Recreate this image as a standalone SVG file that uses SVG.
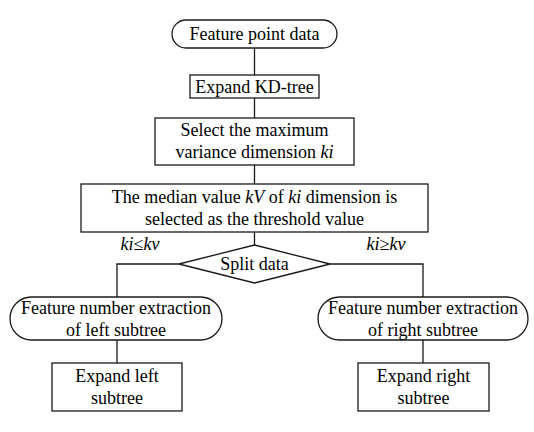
<svg xmlns="http://www.w3.org/2000/svg" width="534" height="432" viewBox="0 0 534 432">
<style>
.s{fill:#fff;stroke:#1a1a1a;stroke-width:1.3}
.c{fill:none;stroke:#1a1a1a;stroke-width:1.3}
text{font-family:'Liberation Serif','Times New Roman','DejaVu Serif',serif;font-size:18px;fill:#000;text-anchor:middle}
.i{font-style:italic}
</style>
<rect width="534" height="432" fill="#fff"/>
<g id="connectors">
<path class="c" d="M254.5 48V75M254.5 98V118M254.5 165V184M254.5 232V245M179 264H117V297M330 264H423V297M117 340V363M423 340V363"/>
</g>
<g id="start"><rect class="s" x="172" y="20" width="165" height="28" rx="14"/><text x="254.5" y="40" font-family="Liberation Serif">Feature point data</text></g>
<g id="expand"><rect class="s" x="190" y="75" width="129" height="23"/><text x="254.5" y="93">Expand KD-tree</text></g>
<g id="select"><rect class="s" x="155" y="118" width="199" height="47"/><text x="254.5" y="136">Select the maximum</text><text x="254.5" y="158">variance dimension <tspan class="i">ki</tspan></text></g>
<g id="median"><rect class="s" x="81" y="184" width="347" height="48"/><text x="254.5" y="203">The median value <tspan class="i">kV</tspan> of <tspan class="i">ki</tspan> dimension is</text><text x="254.5" y="225">selected as the threshold value</text></g>
<g id="split"><polygon class="s" points="254.5,245 330,264 254.5,283 179,264"/><text x="254.5" y="270">Split data</text></g>
<g id="labels"><text class="i" x="140" y="250">ki≤kv</text><text class="i" x="386" y="250">ki≥kv</text></g>
<g id="leftfeat"><rect class="s" x="10" y="297" width="212" height="43" rx="21.5"/><text x="116" y="314">Feature number extraction</text><text x="116" y="336">of left subtree</text></g>
<g id="rightfeat"><rect class="s" x="318" y="297" width="210" height="43" rx="21.5"/><text x="423" y="314">Feature number extraction</text><text x="423" y="336">of right subtree</text></g>
<g id="leftexp"><rect class="s" x="52" y="363" width="130" height="48"/><text x="117" y="382">Expand left</text><text x="117" y="404">subtree</text></g>
<g id="rightexp"><rect class="s" x="358" y="363" width="131" height="48"/><text x="423.5" y="382">Expand right</text><text x="423.5" y="404">subtree</text></g>
</svg>
